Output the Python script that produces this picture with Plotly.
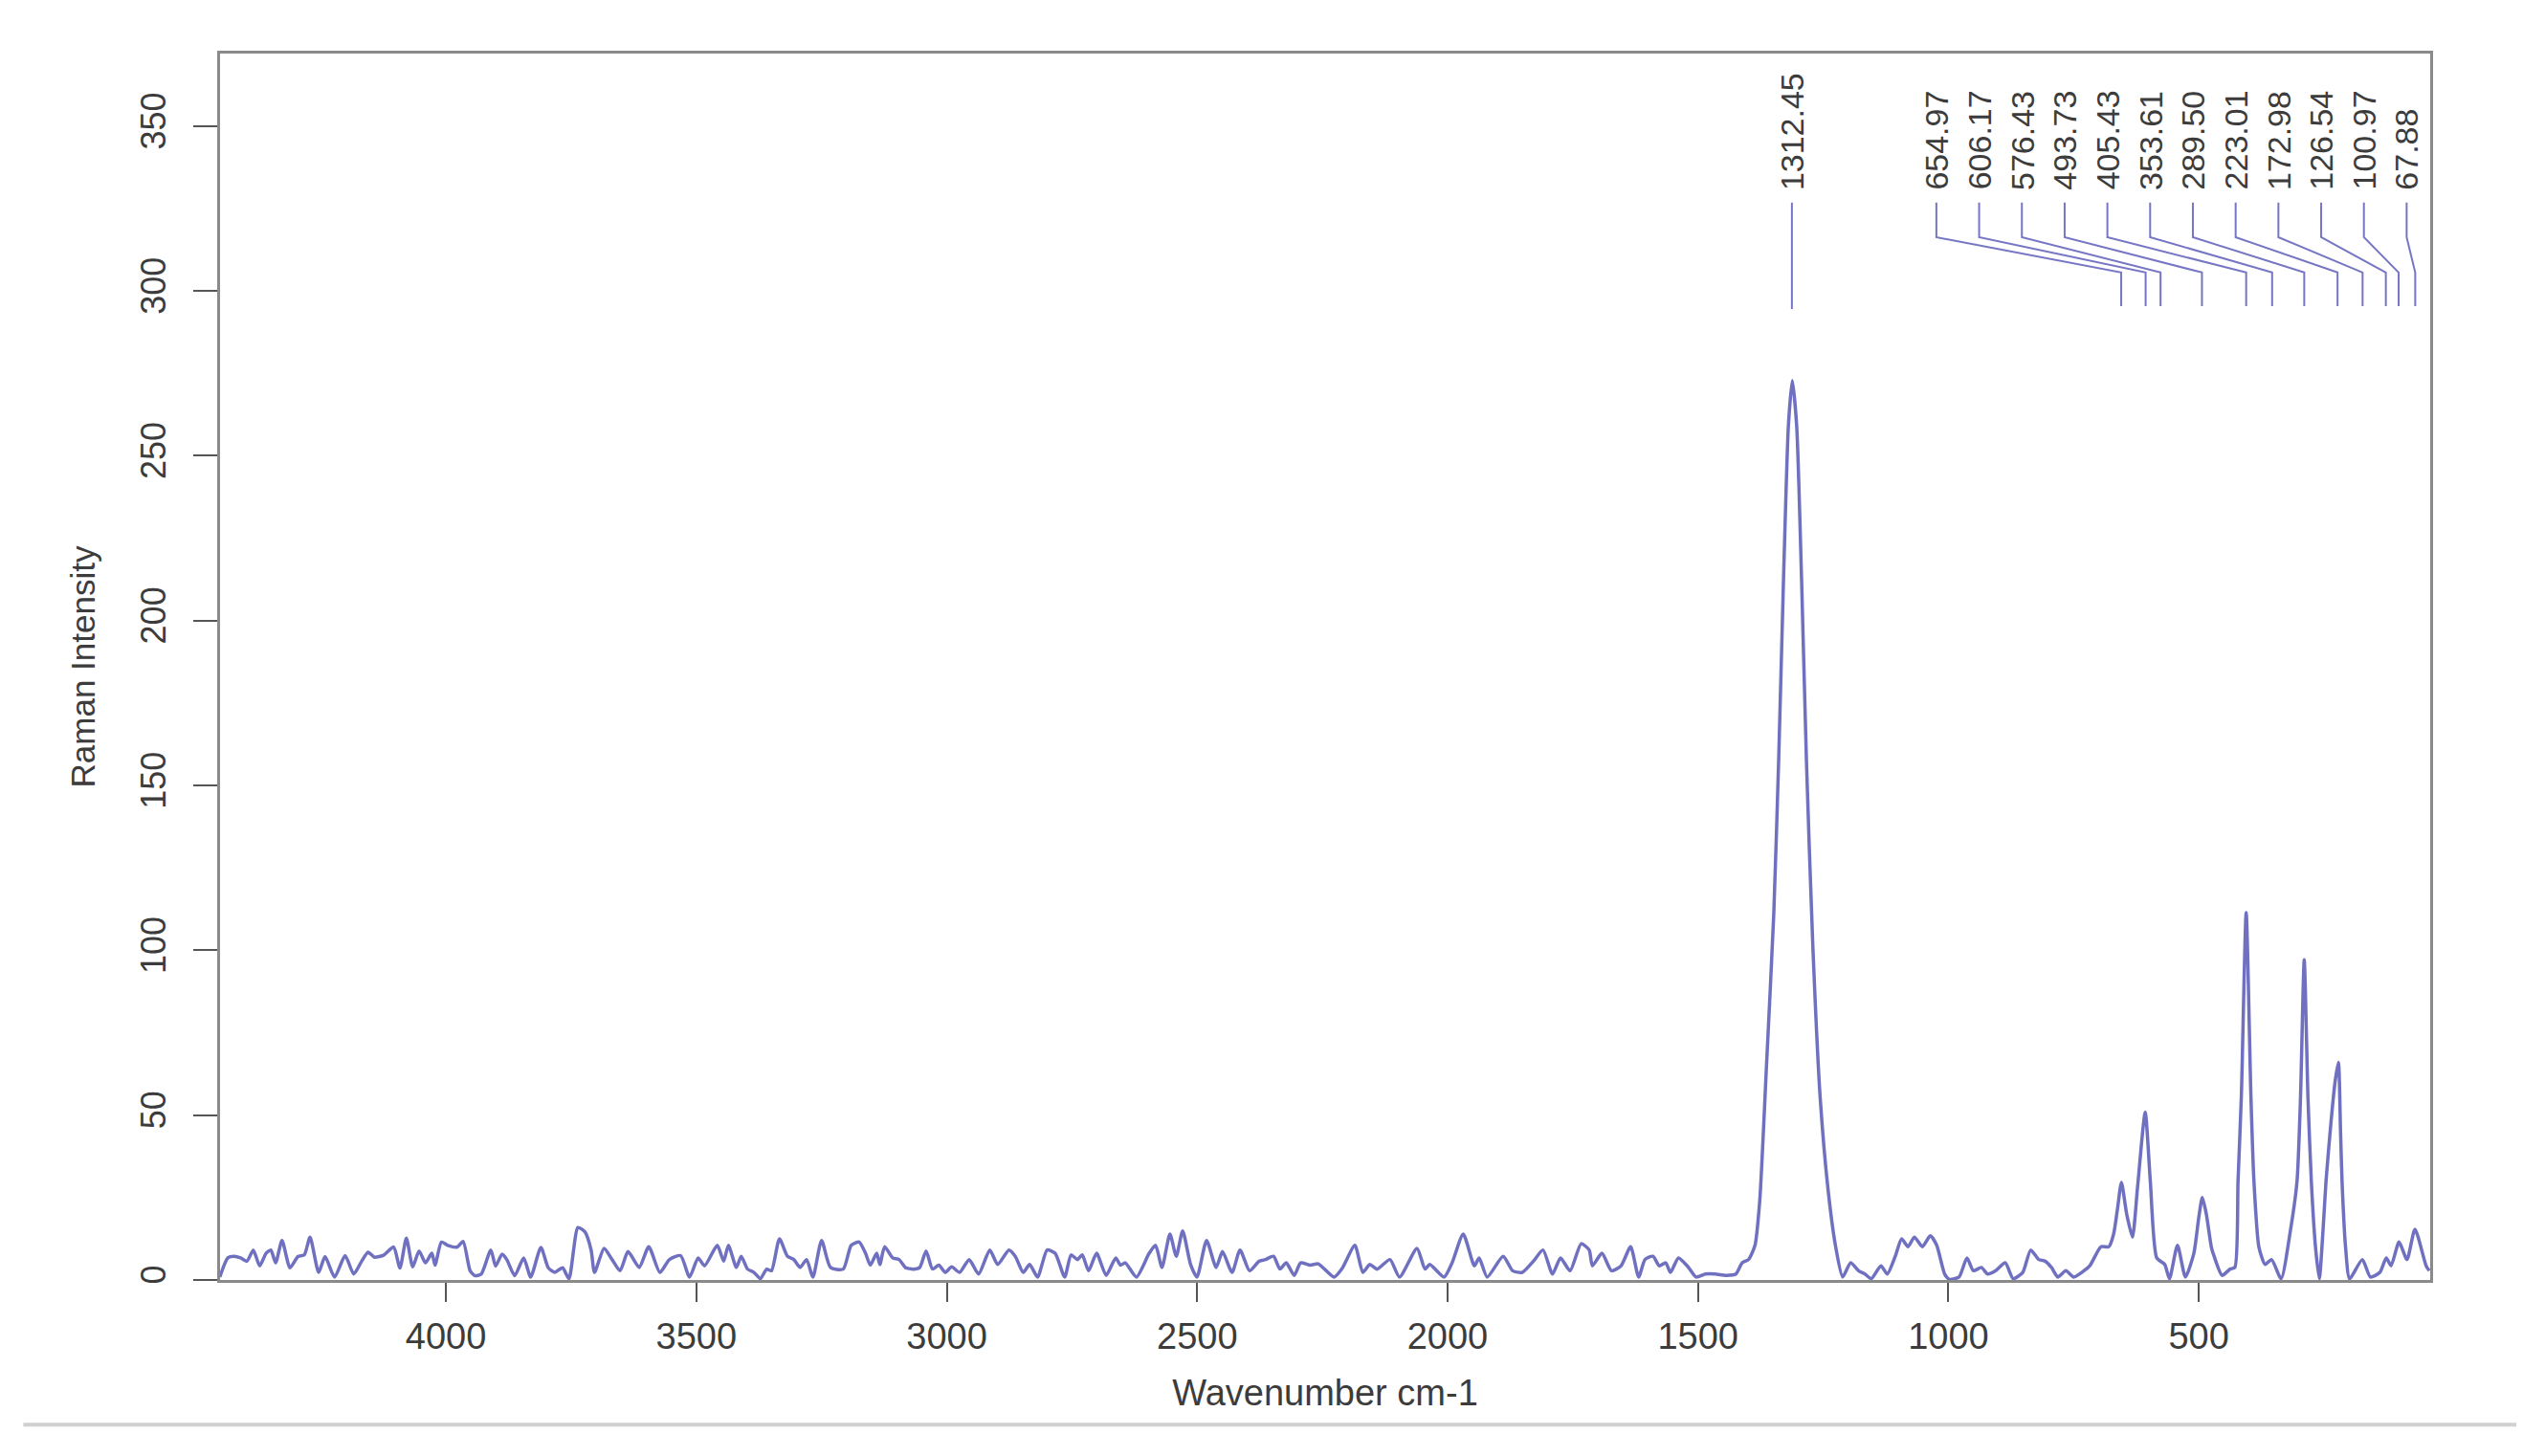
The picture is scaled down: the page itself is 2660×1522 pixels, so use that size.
import numpy as np
import plotly.graph_objects as go

# spectrum (wavenumber cm-1, intensity)
wavenumber = [
    4451.5, 4435.5, 4422.8, 4410.1, 4397.3, 4384.6, 4371.9, 4359.1, 4349.6, 4340.0,
    4327.3, 4311.4, 4295.5, 4282.8, 4271.3, 4254.1, 4241.4, 4222.3, 4201.3, 4184.1,
    4168.2, 4155.4, 4142.7, 4123.6, 4104.5, 4091.8, 4079.0, 4066.3, 4053.6, 4040.8,
    4028.1, 4021.7, 4009.0, 3996.3, 3977.2, 3965.7, 3951.7, 3942.2, 3929.4, 3910.3,
    3900.8, 3888.1, 3878.5, 3862.6, 3844.8, 3830.8, 3810.4, 3795.7, 3783.0, 3767.1,
    3754.4, 3736.5, 3722.5, 3710.0, 3703.3, 3684.2, 3668.3, 3652.3, 3636.4, 3614.1,
    3595.0, 3572.8, 3553.7, 3531.4, 3513.6, 3496.4, 3483.6, 3458.2, 3445.4, 3436.0,
    3420.0, 3410.4, 3397.7, 3385.0, 3372.2, 3359.5, 3350.0, 3334.0, 3318.1, 3305.4,
    3292.7, 3279.9, 3267.2, 3250.0, 3232.2, 3206.7, 3190.8, 3174.9, 3162.2, 3152.6,
    3139.9, 3133.5, 3124.0, 3108.0, 3095.3, 3082.6, 3066.7, 3053.9, 3041.2, 3028.5,
    3015.8, 3003.0, 2990.3, 2974.4, 2955.3, 2936.4, 2914.1, 2898.2, 2875.9, 2863.2,
    2847.3, 2834.5, 2818.6, 2799.5, 2783.6, 2764.5, 2751.8, 2739.0, 2729.5, 2716.8,
    2700.8, 2681.7, 2662.6, 2653.1, 2643.5, 2621.3, 2595.8, 2583.1, 2570.3, 2554.4,
    2541.7, 2529.0, 2513.1, 2500.3, 2481.2, 2462.1, 2449.4, 2430.3, 2414.4, 2395.3,
    2376.2, 2363.5, 2347.5, 2334.8, 2322.1, 2306.2, 2293.4, 2274.3, 2258.4, 2245.7,
    2226.6, 2210.6, 2185.1, 2169.2, 2155.2, 2140.6, 2115.1, 2096.0, 2061.0, 2045.1,
    2035.5, 2006.9, 1991.0, 1968.7, 1946.4, 1936.9, 1920.9, 1889.1, 1870.0, 1850.9,
    1828.6, 1809.5, 1790.4, 1774.5, 1755.4, 1733.2, 1717.2, 1710.9, 1691.8, 1672.7,
    1653.6, 1634.5, 1618.5, 1605.8, 1589.9, 1577.2, 1564.4, 1554.9, 1539.0, 1519.9,
    1504.0, 1484.9, 1465.8, 1443.5, 1424.4, 1411.7, 1399.0, 1386.2, 1376.7, 1363.3,
    1348.7, 1339.0, 1329.2, 1319.5, 1311.7, 1302.9, 1293.2, 1283.4, 1270.8, 1256.1,
    1240.0, 1225.0, 1211.1, 1195.2, 1179.3, 1166.6, 1153.9, 1134.7, 1122.0, 1106.1,
    1093.4, 1080.6, 1067.9, 1052.0, 1036.1, 1023.3, 1007.4, 997.9, 978.8, 962.9,
    950.1, 934.2, 921.5, 905.6, 886.5, 870.6, 851.5, 835.6, 819.6, 806.9,
    794.2, 781.4, 765.5, 749.6, 733.7, 717.7, 695.4, 679.5, 670.0, 662.0,
    654.5, 644.0, 632.5, 622.5, 607.0, 596.8, 584.0, 568.1, 558.6, 542.6,
    526.7, 510.0, 500.0, 493.0, 485.0, 475.0, 469.4, 453.5, 437.6, 428.0,
    421.7, 415.0, 405.4, 396.0, 389.9, 380.0, 367.6, 354.8, 335.7, 316.7,
    303.9, 297.0, 289.5, 282.0, 275.3, 267.0, 259.4, 252.0, 246.0, 236.0,
    228.0, 221.3, 217.0, 214.0, 207.0, 198.9, 173.4, 157.5, 138.4, 125.7,
    116.1, 100.2, 84.3, 68.4, 46.1, 39.8,
]
intensity = [
    0.9, 6.7, 7.2, 6.7, 5.7, 9.1, 4.3, 8.1, 9.1, 5.2,
    12.0, 3.7, 7.1, 7.6, 13.0, 2.3, 7.1, 0.9, 7.4, 1.8,
    5.7, 8.4, 6.9, 7.6, 10.0, 3.6, 12.7, 4.0, 8.8, 5.2,
    8.1, 4.5, 11.5, 10.5, 10.0, 11.7, 2.8, 1.3, 1.8, 9.1,
    4.2, 7.8, 6.2, 1.3, 6.7, 0.9, 9.9, 3.7, 2.3, 3.7,
    0.4, 15.9, 14.6, 9.0, 2.3, 9.6, 6.2, 2.8, 8.6, 3.8,
    10.1, 2.3, 6.2, 7.4, 0.9, 6.7, 4.3, 10.5, 5.7, 10.5,
    3.8, 7.2, 3.3, 2.3, 0.4, 3.3, 2.8, 12.5, 7.2, 6.2,
    3.8, 6.2, 0.9, 12.0, 3.8, 3.3, 10.5, 11.5, 8.1, 4.5,
    8.1, 4.7, 10.1, 6.7, 6.2, 3.8, 3.3, 3.8, 8.8, 3.3,
    4.5, 2.3, 4.0, 2.3, 6.2, 1.8, 9.1, 4.7, 9.1, 7.2,
    2.3, 4.7, 0.9, 9.1, 8.1, 0.9, 7.6, 6.2, 7.6, 2.8,
    8.1, 1.4, 6.7, 4.5, 5.2, 0.9, 8.1, 10.5, 3.8, 13.9,
    7.2, 14.9, 4.7, 0.9, 12.0, 3.8, 8.6, 2.3, 9.1, 2.8,
    5.7, 6.2, 7.2, 3.3, 5.2, 1.4, 5.2, 4.5, 4.9, 3.3,
    0.9, 3.5, 10.5, 2.3, 4.7, 3.3, 6.2, 0.9, 9.6, 3.3,
    4.7, 0.9, 5.2, 13.9, 4.3, 6.7, 0.9, 7.2, 2.8, 2.3,
    5.7, 9.1, 1.8, 6.7, 2.8, 11.0, 9.1, 4.3, 8.1, 2.8,
    4.3, 10.1, 0.9, 6.2, 7.2, 4.3, 5.2, 2.3, 6.7, 4.0,
    0.9, 1.8, 1.8, 1.4, 1.8, 5.2, 6.2, 10.5, 24.0, 64.7,
    111.0, 157.2, 212.7, 259.0, 272.8, 259.0, 212.7, 157.2, 101.7, 55.5,
    27.0, 10.0, 0.9, 5.2, 2.8, 1.8, 0.4, 4.3, 1.8, 7.2,
    12.5, 10.1, 13.0, 10.1, 13.4, 10.5, 1.8, 0.2, 0.9, 6.7,
    2.8, 3.8, 1.8, 2.8, 5.2, 0.4, 2.3, 9.1, 6.2, 5.7,
    3.8, 0.9, 2.8, 0.9, 2.3, 4.3, 10.1, 10.1, 14.0, 22.0,
    29.6, 20.0, 13.0, 27.8, 50.9, 29.9, 6.7, 4.7, 0.4, 10.5,
    0.9, 8.0, 19.0, 25.0, 20.0, 10.0, 7.2, 1.4, 3.3, 3.8,
    29.9, 56.0, 111.4, 56.0, 29.9, 10.0, 4.7, 6.2, 0.4, 15.4,
    29.9, 55.0, 97.1, 55.0, 29.9, 10.0, 0.4, 15.0, 30.0, 48.0,
    60.0, 66.0, 45.0, 30.0, 10.0, 0.4, 6.2, 0.9, 2.3, 6.7,
    4.3, 11.5, 6.2, 15.4, 4.3, 2.8,
]

# labelled peaks
main_peak = 1312.45
peak_labels = [654.97, 606.17, 576.43, 493.73, 405.43, 353.61,
               289.50, 223.01, 172.98, 126.54, 100.97, 67.88]

x_ticks = [4000, 3500, 3000, 2500, 2000, 1500, 1000, 500]
y_ticks = [0, 50, 100, 150, 200, 250, 300, 350]

LINE_COL = "#7070c0"
TEXT_COL = "#3c3c3c"
FONT = "Liberation Sans, Arial, sans-serif"

# leader line heights (in intensity units)
y_top, y_bend1, y_bend2, y_bot = 326.8, 316.3, 305.6, 295.4
label_x = np.linspace(1024, 85, len(peak_labels))

lx, ly = [main_peak, main_peak, None], [y_top, 294.5, None]
for px, pk in zip(label_x, peak_labels):
    lx += [px, px, pk, pk, None]
    ly += [y_top, y_bend1, y_bend2, y_bot, None]

fig = go.Figure()
fig.add_trace(go.Scatter(x=wavenumber, y=intensity, mode="lines",
                         line=dict(color=LINE_COL, width=3.5, shape="spline", smoothing=0.6),
                         hoverinfo="x+y", showlegend=False))
fig.add_trace(go.Scatter(x=lx, y=ly, mode="lines",
                         line=dict(color="#7676c4", width=2),
                         hoverinfo="skip", showlegend=False))

annotations = [dict(x=main_peak, y=330, text=f"{main_peak:.2f}", showarrow=False,
                    textangle=-90, xanchor="center", yanchor="bottom",
                    font=dict(size=34, color=TEXT_COL, family=FONT))]
for px, pk in zip(label_x, peak_labels):
    annotations.append(dict(x=px, y=330, text=f"{pk:.2f}", showarrow=False,
                            textangle=-90, xanchor="center", yanchor="bottom",
                            font=dict(size=34, color=TEXT_COL, family=FONT)))

# page body has an 8px margin, so the figure is a bit smaller than the window
fig.update_layout(
    width=2644, height=1506,
    margin=dict(l=222, r=112, t=48, b=176),
    paper_bgcolor="white", plot_bgcolor="white",
    font=dict(family=FONT, size=35, color=TEXT_COL),
    annotations=annotations,
    shapes=[dict(type="line", xref="paper", yref="paper",
                 x0=-0.089, x1=1.039, y0=-0.118, y1=-0.118,
                 line=dict(color="#d0d0d0", width=4))],
)
fig.update_xaxes(range=[4451, 38], tickvals=x_ticks, ticks="outside", ticklen=20,
                 tickwidth=2, tickcolor="#555555", showgrid=False, zeroline=False,
                 showline=True, mirror=True, linecolor="#8a8a8a", linewidth=3,
                 ticklabelstandoff=3, tickfont=dict(size=38),
                 title=dict(text="Wavenumber cm-1", standoff=26,
                            font=dict(size=38, color=TEXT_COL)))
fig.update_yaxes(range=[0, 372], tickvals=y_ticks, tickangle=-90, ticks="outside",
                 ticklen=25, tickwidth=2, tickcolor="#555555", showgrid=False,
                 zeroline=False, showline=True, mirror=True, linecolor="#8a8a8a",
                 linewidth=3, ticklabelstandoff=15, tickfont=dict(size=36),
                 title=dict(text="Raman Intensity", standoff=30,
                            font=dict(size=35, color=TEXT_COL)))

fig.write_html("out.html")
